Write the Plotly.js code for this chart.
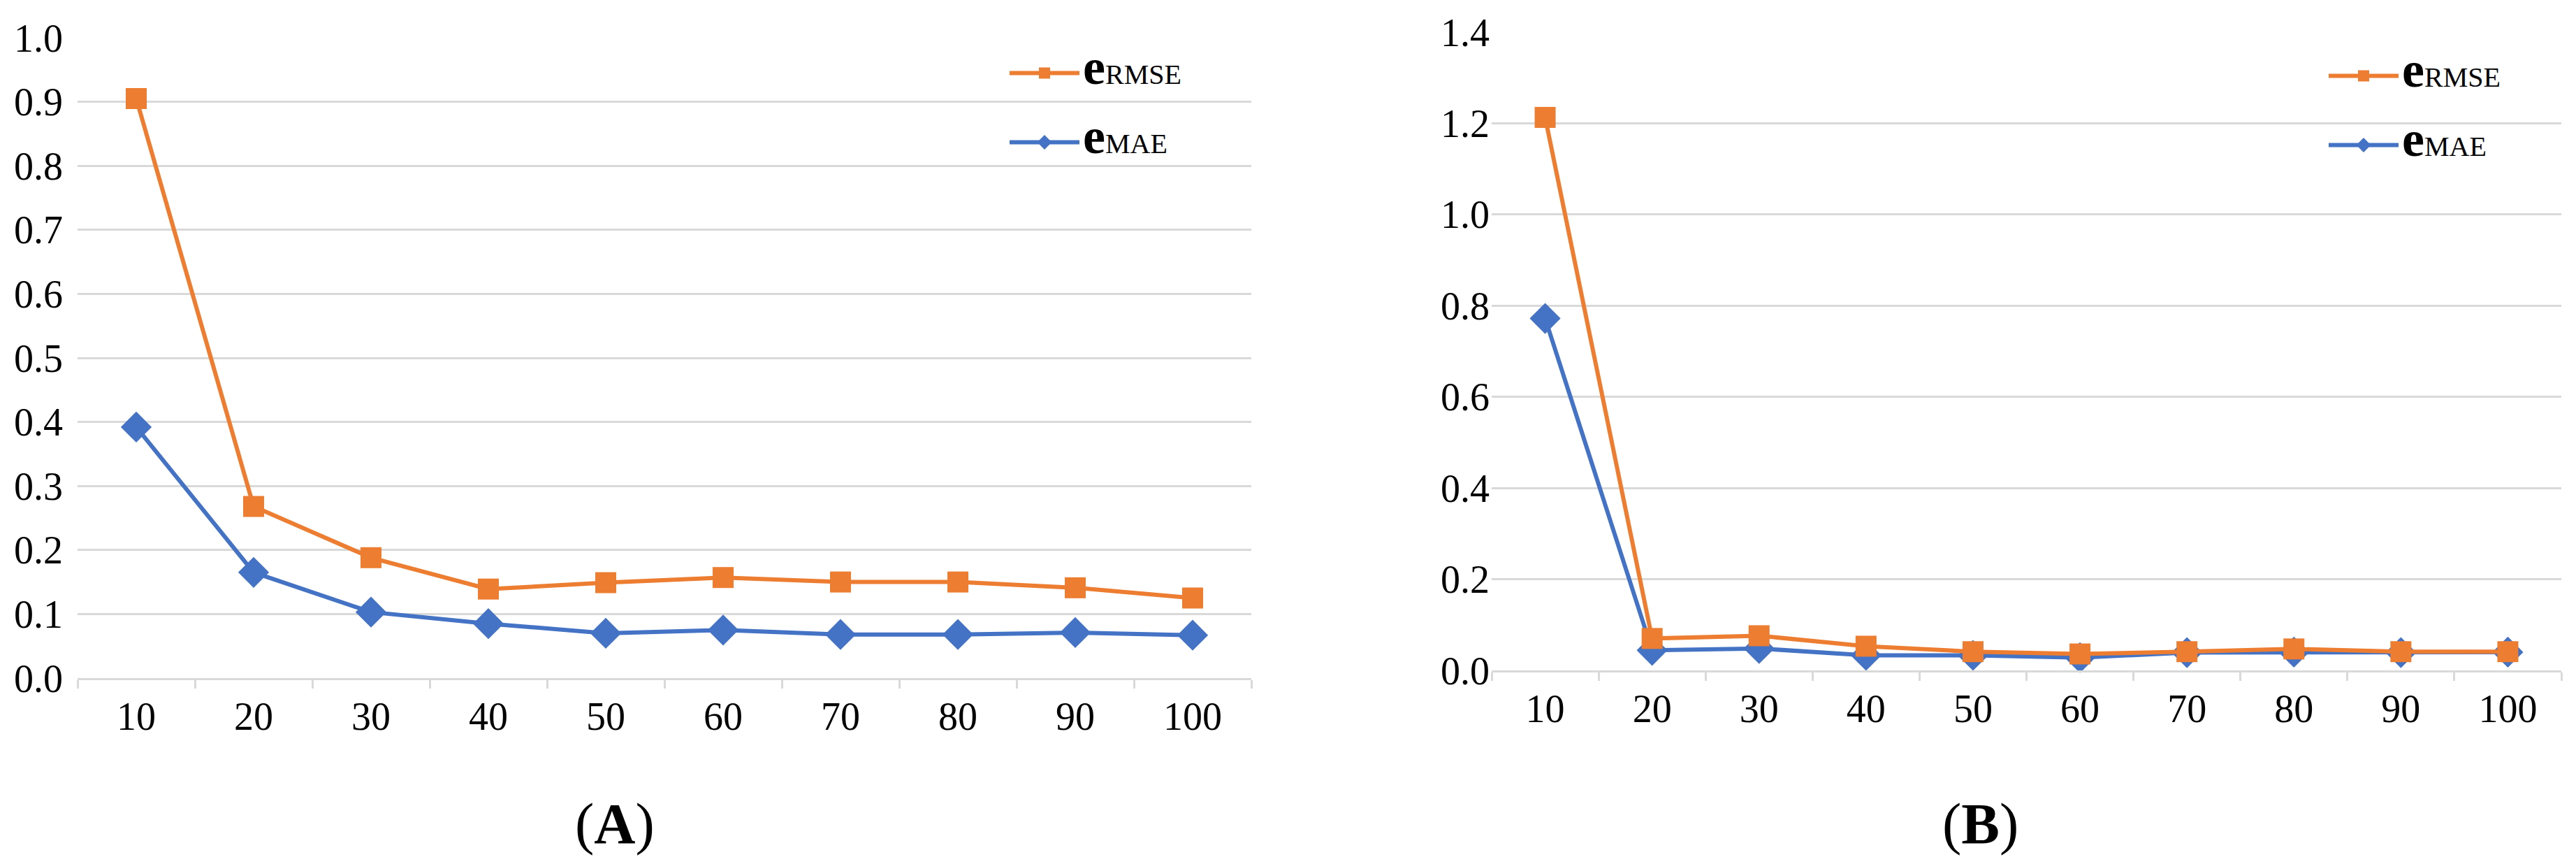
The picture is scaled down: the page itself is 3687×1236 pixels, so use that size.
<!DOCTYPE html>
<html>
<head>
<meta charset="utf-8">
<script src="https://cdn.plot.ly/plotly-3.0.1.min.js"></script>
<style>html,body{margin:0;padding:0;background:#fff;}#chart{width:3687px;height:1236px;}</style>
</head>
<body>
<div id="chart"></div>
<script>
// ---- data ----
const categories = ['10','20','30','40','50','60','70','80','90','100'];
const rmseA = [0.905, 0.268, 0.188, 0.139, 0.149, 0.157, 0.150, 0.150, 0.141, 0.125];
const maeA  = [0.392, 0.165, 0.103, 0.085, 0.070, 0.075, 0.068, 0.068, 0.071, 0.067];
const rmseB = [1.213, 0.070, 0.076, 0.053, 0.041, 0.036, 0.041, 0.047, 0.041, 0.041];
const maeB  = [0.772, 0.044, 0.048, 0.033, 0.033, 0.028, 0.039, 0.040, 0.039, 0.040];
const nameRMSE = '<span style="font-size:72px"><b>e</b></span><span style="font-size:40px">RMSE</span>';
const nameMAE  = '<span style="font-size:72px"><b>e</b></span><span style="font-size:40px">MAE</span>';
const panelLabels = ['(<b>A</b>)', '(<b>B</b>)'];

// ---- styles ----
const ORANGE = '#ED7D31', BLUE = '#4472C4', GRID = '#D9D9D9';
const FONT = 'Liberation Serif, Times New Roman, serif';
const W = 3687, H = 1236;

function mk(y, name, color, symbol, size, xa, ya, leg, rank) {
  return {
    x: categories, y: y, name: name, type: 'scatter', mode: 'lines+markers',
    xaxis: xa, yaxis: ya, legend: leg, legendrank: rank, legendgroup: leg + rank,
    line: {color: color, width: 6},
    marker: {color: color, symbol: symbol, size: size},
    cliponaxis: false
  };
}

const data = [
  mk(maeA,  nameMAE,  BLUE,   'diamond', 34, 'x',  'y',  'legend',  2),
  mk(rmseA, nameRMSE, ORANGE, 'square',  30, 'x',  'y',  'legend',  1),
  mk(maeB,  nameMAE,  BLUE,   'diamond', 34, 'x2', 'y2', 'legend2', 2),
  mk(rmseB, nameRMSE, ORANGE, 'square',  30, 'x2', 'y2', 'legend2', 1)
];

function xax(domain, anchor) {
  return {
    type: 'category', domain: domain, anchor: anchor, categoryorder: 'array', categoryarray: categories,
    range: [-0.5, 9.5], tickson: 'boundaries', ticks: 'outside', ticklen: 12,
    tickwidth: 3, tickcolor: GRID, showgrid: false, showline: true,
    linecolor: GRID, linewidth: 3, zeroline: false, fixedrange: true,
    tickfont: {family: FONT, size: 56, color: '#000'}, ticklabelstandoff: 4
  };
}
function yax(domain, anchor, max, dtick, standoff) {
  return {
    domain: domain, anchor: anchor, range: [0, max], dtick: dtick, tick0: 0, tickformat: '.1f',
    showgrid: true, gridcolor: GRID, gridwidth: 3, showline: false, zeroline: false,
    ticks: '', fixedrange: true, ticklabelstandoff: standoff,
    tickfont: {family: FONT, size: 56, color: '#000'}
  };
}

const layout = {
  width: W, height: H, margin: {l: 0, r: 0, t: 0, b: 0},
  paper_bgcolor: '#fff', plot_bgcolor: '#fff', showlegend: true,
  font: {family: FONT, color: '#000'},
  xaxis:  xax([111/W, 1791/W], 'y'),
  yaxis:  yax([(H-970)/H, (H-54)/H], 'x', 1.0, 0.1, 20),
  xaxis2: xax([2135/W, 3666/W], 'y2'),
  yaxis2: yax([(H-959)/H, (H-46)/H], 'x2', 1.4, 0.2, 2),
  legend:  {x: 1440/W, y: 1-72/H, xanchor: 'left', yanchor: 'top', bgcolor: 'rgba(0,0,0,0)',
            font: {family: FONT, size: 40, color: '#000'}, itemwidth: 100, tracegroupgap: 44},
  legend2: {x: 3328/W, y: 1-76/H, xanchor: 'left', yanchor: 'top', bgcolor: 'rgba(0,0,0,0)',
            font: {family: FONT, size: 40, color: '#000'}, itemwidth: 100, tracegroupgap: 44},
  annotations: [
    {text: panelLabels[0], xref: 'paper', yref: 'paper', x: 880/W, y: (H-1178)/H,
     xanchor: 'center', yanchor: 'middle', showarrow: false, font: {family: FONT, size: 82, color: '#000'}},
    {text: panelLabels[1], xref: 'paper', yref: 'paper', x: 2834/W, y: (H-1178)/H,
     xanchor: 'center', yanchor: 'middle', showarrow: false, font: {family: FONT, size: 82, color: '#000'}}
  ]
};

Plotly.newPlot('chart', data, layout, {staticPlot: true, displayModeBar: false});
</script>
</body>
</html>
